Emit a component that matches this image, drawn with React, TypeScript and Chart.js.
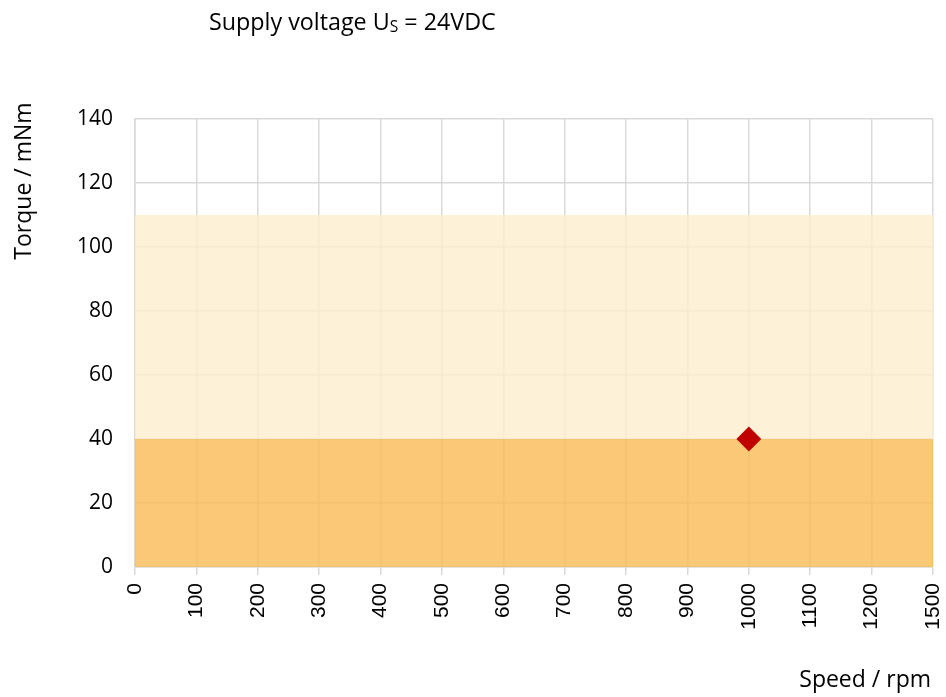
import React, { useEffect, useRef } from 'react';
import { Chart, registerables } from 'chart.js';

Chart.register(...registerables);

// Tick labels of the speed axis (evenly spaced, as in the original)
const speedLabels = ['0', '100', '200', '300', '400', '500', '600', '700', '800', '900', '1000', '1100', '1200', '1500'];
// Torque band limits over the speed range
const bandSpeeds = ['0', '1500'];
const continuousTorque = [40, 40];
const peakTorque = [110, 110];
// Operating point
const operatingSpeed = ['1000'];
const operatingTorque = [40];

const titleMain = 'Supply voltage U';
const titleSub = 'S';
const titleRest = ' = 24VDC';
const xTitle = 'Speed / rpm';
const yTitle = 'Torque / mNm';

const W = 946;
const H = 697;
const PLOT_LEFT = 135;
const PLOT_RIGHT = 933;
const PLOT_TOP = 119;
const PLOT_BOTTOM = 567;

const idx = (s: string) => speedLabels.indexOf(s);

const textPlugin = {
  id: 'textPlugin',
  afterDraw(chart: any) {
    const ctx = chart.ctx as CanvasRenderingContext2D;
    ctx.save();
    ctx.fillStyle = '#000';
    ctx.textBaseline = 'alphabetic';
    ctx.textAlign = 'left';
    // title
    let x = 209;
    ctx.font = '23.3px "Open Sans"';
    ctx.fillText(titleMain, x, 30);
    x += ctx.measureText(titleMain).width;
    ctx.font = '15.5px "Open Sans"';
    ctx.fillText(titleSub, x, 32);
    x += ctx.measureText(titleSub).width;
    ctx.font = '23.3px "Open Sans"';
    ctx.fillText(titleRest, x, 30);
    // x title
    ctx.textAlign = 'right';
    ctx.font = '23px "Open Sans"';
    ctx.fillText(xTitle, 931, 687);
    // y title
    ctx.translate(31, 181);
    ctx.rotate(-Math.PI / 2);
    ctx.textAlign = 'center';
    ctx.font = '23px "Open Sans"';
    ctx.fillText(yTitle, 0, 0);
    ctx.restore();
  },
};

export default function App() {
  const ref = useRef<HTMLCanvasElement | null>(null);

  useEffect(() => {
    if (!ref.current) return;
    const chart = new Chart(ref.current, {
      type: 'scatter',
      data: {
        datasets: [
          {
            type: 'line',
            order: 2,
            data: bandSpeeds.map((s, i) => ({ x: idx(s), y: continuousTorque[i] })),
            fill: 'origin',
            backgroundColor: 'rgba(247,187,86,0.8)',
            borderWidth: 0,
            pointRadius: 0,
          } as any,
          {
            type: 'line',
            order: 3,
            data: bandSpeeds.map((s, i) => ({ x: idx(s), y: peakTorque[i] })),
            fill: '-1',
            backgroundColor: 'rgba(253,239,206,0.8)',
            borderWidth: 0,
            pointRadius: 0,
          } as any,
          {
            type: 'scatter',
            order: 0,
            data: operatingSpeed.map((s, i) => ({ x: idx(s), y: operatingTorque[i] })),
            pointStyle: 'rectRot',
            pointRadius: 11,
            backgroundColor: '#C00000',
            borderColor: '#C00000',
            borderWidth: 2,
          } as any,
        ],
      },
      options: {
        animation: false,
        responsive: false,
        events: [],
        layout: { padding: { top: PLOT_TOP, right: W - PLOT_RIGHT, left: 0, bottom: 0 } },
        plugins: { legend: { display: false }, tooltip: { enabled: false }, title: { display: false } },
        scales: {
          x: {
            type: 'linear',
            min: 0,
            max: speedLabels.length - 1,
            afterFit: (s: any) => {
              s.height = H - PLOT_BOTTOM;
              s.paddingLeft = 0;
              s.paddingRight = 0;
            },
            ticks: {
              stepSize: 1,
              autoSkip: false,
              maxRotation: 90,
              minRotation: 90,
              padding: 8,
              color: '#000',
              font: { family: '"Liberation Sans"', size: 21 },
              callback: (v: any) => speedLabels[v] ?? '',
            },
            grid: { color: '#d9d9d9', lineWidth: 1.5, tickLength: 8 },
            border: { color: '#d9d9d9', width: 1.5 },
          },
          y: {
            type: 'linear',
            min: 0,
            max: 140,
            afterFit: (s: any) => {
              s.width = PLOT_LEFT;
              s.paddingTop = 0;
              s.paddingBottom = 0;
            },
            ticks: {
              stepSize: 20,
              padding: 22,
              color: '#000',
              font: { family: '"Open Sans"', size: 21 },
            },
            grid: { color: '#d9d9d9', lineWidth: 1.5, drawTicks: false },
            border: { color: '#d9d9d9', width: 1.5 },
          },
        },
      } as any,
      plugins: [textPlugin],
    });
    return () => chart.destroy();
  }, []);

  return (
    <div style={{ position: 'absolute', left: 0, top: 0, width: W, height: H, background: '#fff' }}>
      <canvas ref={ref} width={W} height={H} style={{ display: 'block' }} />
    </div>
  );
}
